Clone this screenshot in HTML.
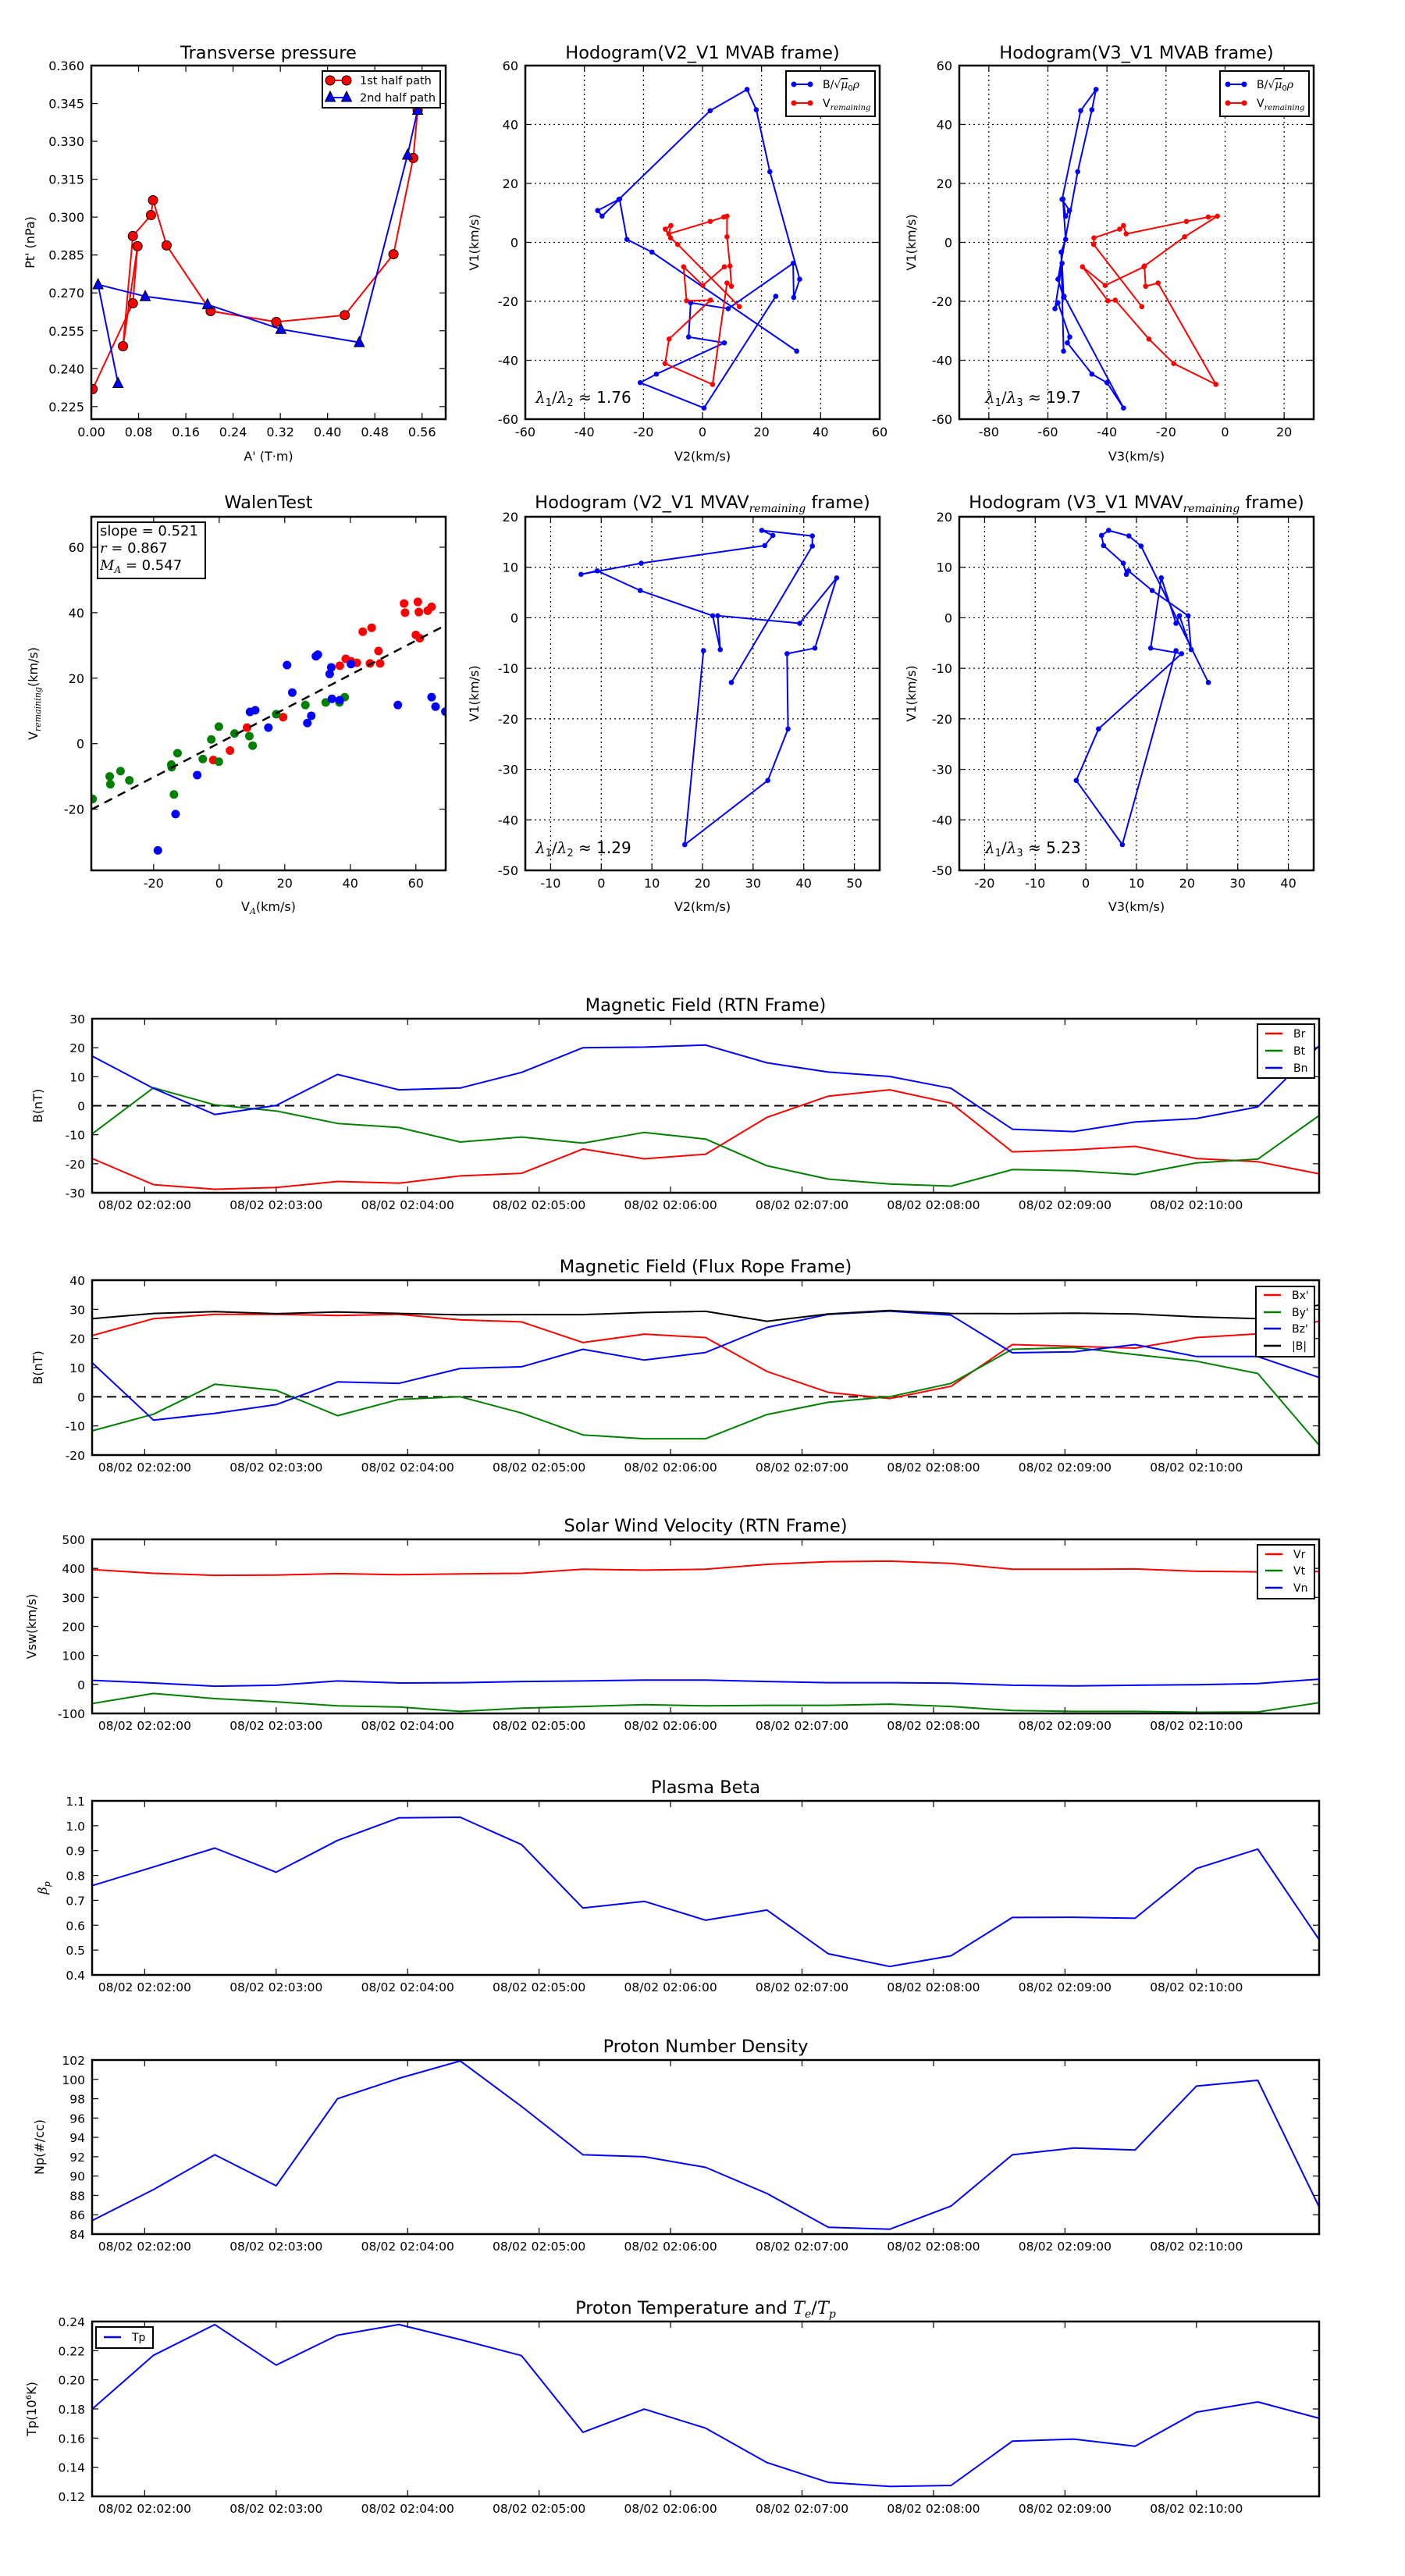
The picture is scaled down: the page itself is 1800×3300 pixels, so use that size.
<!DOCTYPE html>
<html><head><meta charset="utf-8"><title>Flux rope analysis</title>
<style>
html,body{margin:0;padding:0;background:#fff;}
svg{display:block;font-family:"DejaVu Sans","Liberation Sans",sans-serif;}
</style></head>
<body>
<svg id="fig" xmlns="http://www.w3.org/2000/svg" width="1800" height="3300" viewBox="0 0 1800 3300">
<rect x="0" y="0" width="1800" height="3300" fill="#fff"/>
</svg>
<script>
// ---------- Transverse pressure data ----------
const tpA1=[0.0022,0.0703,0.0782,0.0536,0.0703,0.1010,0.1045,0.1274,0.2020,0.3131,0.4291,0.5116,0.5450,0.5525];
const tpP1=[0.2319,0.2659,0.2885,0.2489,0.2925,0.3008,0.3067,0.2888,0.2628,0.2585,0.2612,0.2853,0.3234,0.3424];
const tpA2=[0.0452,0.0114,0.0913,0.1967,0.3210,0.4537,0.5354,0.5525];
const tpP2=[0.2342,0.2733,0.2686,0.2654,0.2556,0.2504,0.3246,0.3424];
// ---------- MVAB hodograms ----------
const hbV2=[24.8,0.5,-21.1,-15.6,7.4,-4.7,-4.0,8.7,30.7,30.9,32.9,22.8,18.2,15.1,2.6,-28.3,-35.5,-34.0,-28.1,-25.6,-17.1,31.9];
const hbV1=[-18.3,-56.2,-47.6,-44.7,-34.1,-32.1,-20.5,-22.5,-7.1,-18.7,-12.5,24.0,45.0,51.9,44.7,14.6,10.8,8.9,14.7,1.0,-3.3,-36.9];
const hbV3=[-54.5,-34.4,-40.0,-45.1,-53.4,-52.6,-56.6,-57.6,-55.2,-54.7,-56.6,-49.9,-45.1,-43.7,-48.9,-55.2,-52.7,-54.0,-54.9,-54.0,-55.5,-54.7];
const hvV2=[12.5,-8.4,-10.8,-12.6,-10.7,-11.4,2.6,7.2,8.3,8.3,9.3,9.8,8.3,3.4,-12.7,-11.3,2.7,-5.4,-6.4,0.1,7.4];
const hvV1=[-21.8,-0.7,1.5,4.5,5.7,2.9,7.1,8.6,8.9,1.9,-8.0,-14.9,-13.8,-48.2,-41.1,-32.8,-19.6,-19.8,-8.3,-14.6,-8.3];
const hvV3=[-28.2,-44.5,-44.4,-35.7,-34.4,-33.5,-13.1,-5.7,-2.6,-13.7,-27.3,-26.9,-22.7,-3.1,-17.4,-25.8,-37.2,-39.7,-48.3,-40.6,-27.5];
// ---------- Walen test ----------
const wxG=[-38.6,-33.4,-33.2,-30.1,-27.4,-14.6,-14.5,-13.8,-12.7,-5.0,-2.4,-0.1,-0.1,4.7,9.2,10.2,17.4,26.3,32.5,36.7,38.3];
const wyG=[-16.9,-10.0,-12.4,-8.4,-11.2,-6.4,-7.2,-15.5,-2.9,-4.7,1.3,5.2,-5.5,3.1,2.3,-0.6,9.0,11.8,12.6,12.6,14.2];
const wxR=[-1.8,3.3,8.5,19.5,36.8,38.6,40.2,42.0,43.8,46.5,46.0,48.6,49.1,56.4,56.7,60.6,60.9,60.0,61.2,63.6,64.8];
const wyR=[-5.0,-2.1,4.9,8.1,23.8,25.9,25.2,24.7,34.2,35.4,24.5,28.3,24.5,42.8,40.0,43.3,40.2,33.2,32.2,40.6,41.8];
const wxB=[-18.7,-13.3,-6.7,9.4,11.0,15.0,20.7,22.3,26.9,28.1,29.5,30.1,33.7,34.2,34.4,36.8,40.2,54.5,64.8,66.0,69.0];
const wyB=[-32.6,-21.5,-9.6,9.7,10.2,4.9,24.0,15.6,6.3,8.5,26.7,27.2,21.3,23.3,13.7,13.3,24.3,11.8,14.2,11.3,9.8];
const walenSlope=0.521, walenIntercept=0.2;
// ---------- MVAV hodograms ----------
const h2V2=[20.2,16.5,32.9,36.9,36.7,42.2,46.5,39.2,23.0,23.5,22.0,7.7,-0.8,-4.0,7.9,32.3,33.9,31.7,41.7,41.7,25.7];
const h2V1=[-6.5,-44.9,-32.2,-22.0,-7.1,-6.0,7.9,-1.1,0.4,-6.3,0.4,5.4,9.3,8.6,10.8,14.3,16.3,17.3,16.2,14.2,-12.8];
const h2V3=[17.8,7.2,-1.9,2.5,18.9,12.8,14.9,17.8,18.5,20.8,20.2,13.1,8.4,8.0,7.4,3.5,3.1,4.5,8.5,10.9,24.2];
// ---------- time series (seconds after 02:00:00) ----------
const tsSec=[96,124,152,180,208,236,264,292,320,348,376,404,432,460,488,516,544,572,600,628,656];
const tsTickSec=[120,180,240,300,360,420,480,540,600];
const tsTickLabels=["08/02 02:02:00","08/02 02:03:00","08/02 02:04:00","08/02 02:05:00","08/02 02:06:00","08/02 02:07:00","08/02 02:08:00","08/02 02:09:00","08/02 02:10:00"];
const br=[-18.2,-27.2,-28.8,-28.2,-26.1,-26.7,-24.2,-23.3,-14.9,-18.3,-16.7,-4.0,3.3,5.5,0.9,-15.9,-15.2,-14.0,-18.2,-19.3,-23.5];
const bt=[-9.7,6.2,0.3,-1.8,-6.1,-7.5,-12.5,-10.8,-12.9,-9.2,-11.5,-20.7,-25.3,-27.0,-27.7,-22.0,-22.4,-23.7,-19.7,-18.4,-3.4];
const bn=[17.1,6.0,-3.0,0.1,10.8,5.5,6.1,11.5,20.0,20.2,20.9,14.8,11.6,10.1,6.0,-8.1,-8.9,-5.6,-4.4,-0.4,20.7];
const bxp=[21.0,26.8,28.3,28.3,27.9,28.3,26.4,25.7,18.6,21.5,20.3,8.7,1.5,-0.6,3.6,17.9,17.3,16.7,20.3,21.6,25.9];
const byp=[-11.7,-6.0,4.3,2.2,-6.5,-0.9,0.0,-5.6,-13.1,-14.4,-14.4,-6.1,-1.9,0.0,4.6,16.3,16.9,14.5,12.2,8.0,-16.6];
const bzp=[11.7,-8.0,-5.7,-2.7,5.1,4.6,9.7,10.3,16.3,12.6,15.2,23.8,28.3,29.4,28.0,15.1,15.4,17.9,13.8,13.8,6.6];
const bmag=[26.8,28.6,29.2,28.5,29.1,28.6,28.1,28.2,28.2,28.9,29.3,25.9,28.4,29.6,28.6,28.5,28.7,28.4,27.4,26.8,31.5];
const vr=[396,383,376,377,382,378,381,383,397,394,397,414,423,425,417,397,397,398,390,388,389];
const vt=[-66,-31,-49,-60,-74,-78,-93,-82,-76,-70,-74,-72,-72,-68,-76,-90,-93,-93,-96,-95,-63];
const vn=[14,5,-6,-3,12,5,6,10,12,15,15,10,6,6,4,-3,-5,-3,-1,3,18];
const beta=[0.759,0.834,0.910,0.813,0.941,1.032,1.034,0.924,0.669,0.696,0.620,0.661,0.485,0.434,0.477,0.631,0.632,0.628,0.828,0.906,0.542];
const np=[85.4,88.6,92.2,89.0,98.0,100.1,101.9,97.2,92.2,92.0,90.9,88.2,84.7,84.5,86.9,92.2,92.9,92.7,99.3,99.9,86.8];
const tp=[0.1799,0.2168,0.2379,0.2101,0.2306,0.2379,0.2276,0.2166,0.1640,0.1799,0.1668,0.1432,0.1296,0.1268,0.1275,0.1579,0.1593,0.1544,0.1778,0.1848,0.1736];

const NS='http://www.w3.org/2000/svg';
const svg=document.getElementById('fig');
let clipId=0;
function el(tag,attrs,parent,name,inter){
  const e=document.createElementNS(NS,tag);
  for(const k in attrs) e.setAttribute(k,attrs[k]);
  
  
  (parent||svg).appendChild(e);
  return e;
}
function txt(parent,x,y,s,size,anchor,name,extra){
  const t=el('text',Object.assign({x:x,y:y,'font-size':size,'text-anchor':anchor||'start',fill:'#000'},extra||{}),parent,name,false);
  t.textContent=s;
  return t;
}
function range(a,b,s){const r=[];for(let v=a;v<=b+1e-9;v+=s)r.push(Math.round(v*1e6)/1e6);return r;}

function makeAxes(o){
  const g=el('g',{},svg,o.name,false);
  const sx=v=>o.x0+(v-o.xmin)/(o.xmax-o.xmin)*(o.x1-o.x0);
  const sy=v=>o.y1-(v-o.ymin)/(o.ymax-o.ymin)*(o.y1-o.y0);
  const id='clip'+(clipId++);
  const cp=el('clipPath',{id:id},g,'clip-region',false);
  el('rect',{x:o.x0,y:o.y0,width:o.x1-o.x0,height:o.y1-o.y0},cp,'clip-rect',false);
  if(o.grid){
    o.xticks.forEach(v=>{const X=sx(v);if(X>o.x0+1&&X<o.x1-1)el('line',{x1:X,x2:X,y1:o.y0,y2:o.y1,stroke:'#000','stroke-width':1.2,'stroke-dasharray':'2,4'},g,'x-gridline',false);});
    o.yticks.forEach(v=>{const Y=sy(v);if(Y>o.y0+1&&Y<o.y1-1)el('line',{x1:o.x0,x2:o.x1,y1:Y,y2:Y,stroke:'#000','stroke-width':1.2,'stroke-dasharray':'2,4'},g,'y-gridline',false);});
  }
  const data=el('g',{'clip-path':'url(#'+id+')'},g,'plot-area',false);
  const tl=8;
  o.xticks.forEach((v,i)=>{const X=sx(v);
    el('line',{x1:X,x2:X,y1:o.y1,y2:o.y1-tl,stroke:'#000','stroke-width':1.2},g,'x-tick',false);
    el('line',{x1:X,x2:X,y1:o.y0,y2:o.y0+tl,stroke:'#000','stroke-width':1.2},g,'x-tick-top',false);
    txt(g,X,o.y1+ (o.xlabOff||22),o.xlabels?o.xlabels[i]:o.xfmt(v),o.tickSize||16,'middle','x-tick-label');
  });
  o.yticks.forEach(v=>{const Y=sy(v);
    el('line',{x1:o.x0,x2:o.x0+tl,y1:Y,y2:Y,stroke:'#000','stroke-width':1.2},g,'y-tick',false);
    el('line',{x1:o.x1,x2:o.x1-tl,y1:Y,y2:Y,stroke:'#000','stroke-width':1.2},g,'y-tick-right',false);
    txt(g,o.x0-9,Y+6,o.yfmt(v),o.tickSize||16,'end','y-tick-label');
  });
  if(o.title){const t=txt(g,(o.x0+o.x1)/2,o.titleY,'',o.titleSize||22.5,'middle','chart-title');o.title(t);}
  if(o.xlabel){const t=txt(g,(o.x0+o.x1)/2,o.xlabelY,'',16,'middle','x-axis-title');o.xlabel(t);}
  if(o.ylabel){const yc=(o.y0+o.y1)/2;const t=txt(g,o.ylabelX,yc,'',16,'middle','y-axis-title',{transform:'rotate(-90 '+o.ylabelX+' '+yc+')'});o.ylabel(t);}
  return {g,data,sx,sy,o,frame(){el('rect',{x:o.x0,y:o.y0,width:o.x1-o.x0,height:o.y1-o.y0,fill:'none',stroke:'#000','stroke-width':2.5},g,'axes-frame',false);}};
}
function ts(t,parts){parts.forEach(p=>{const s=document.createElementNS(NS,'tspan');for(const k in (p.a||{}))s.setAttribute(k,p.a[k]);s.textContent=p.t;t.appendChild(s);});}
function polyline(ax,xs,ys,color,w,name){
  const pts=xs.map((x,i)=>ax.sx(x).toFixed(1)+','+ax.sy(ys[i]).toFixed(1)).join(' ');
  return el('polyline',{points:pts,fill:'none',stroke:color,'stroke-width':w,'stroke-linejoin':'round'},ax.data,name,false);
}
function dots(ax,xs,ys,color,r,name,stroke){
  xs.forEach((x,i)=>{el('circle',{cx:ax.sx(x),cy:ax.sy(ys[i]),r:r,fill:color,stroke:stroke||'none','stroke-width':1},ax.data,name,false);});
}
function tris(ax,xs,ys,color,name){
  xs.forEach((x,i)=>{const X=ax.sx(x),Y=ax.sy(ys[i]);
    el('polygon',{points:(X)+','+(Y-7.5)+' '+(X-6.5)+','+(Y+5.5)+' '+(X+6.5)+','+(Y+5.5),fill:color,stroke:'#000','stroke-width':1},ax.data,name,false);});
}
function lambdaText(g,x,y,a,b,val){
  const t=txt(g,x,y,'',20,'start','eigenvalue-ratio');
  ts(t,[{t:'λ',a:{'font-family':'DejaVu Serif, serif','font-style':'italic'}},{t:a,a:{'font-size':13,dy:4}},{t:'/',a:{dy:-4,'font-family':'DejaVu Serif, serif'}},{t:'λ',a:{'font-family':'DejaVu Serif, serif','font-style':'italic'}},{t:b,a:{'font-size':13,dy:4}},{t:' ≈ '+val,a:{dy:-4}}]);
}
function hodoLegend(ax,x0,y0){
  const g=el('g',{},ax.g,'legend',false);
  el('rect',{x:x0,y:y0,width:114,height:58,fill:'#fff',stroke:'#000','stroke-width':2},g,'legend-box',false);
  [['#00f',y0+17,'legend-entry-b'],['#f00',y0+41,'legend-entry-v']].forEach((e,i)=>{
    el('line',{x1:x0+10,x2:x0+31,y1:e[1],y2:e[1],stroke:e[0],'stroke-width':2},g,e[2]+'-line',false);
    el('circle',{cx:x0+10,cy:e[1],r:3.5,fill:e[0]},g,e[2]+'-marker',false);
    el('circle',{cx:x0+31,cy:e[1],r:3.5,fill:e[0]},g,e[2]+'-marker',false);
    const t=txt(g,x0+47,e[1]+5,'',14,'start',e[2]+'-label');
    if(i===0) ts(t,[{t:'B/√'},{t:'μ',a:{'font-style':'italic','font-family':'DejaVu Serif, serif','text-decoration':'overline'}},{t:'0',a:{'font-size':10,dy:3}},{t:'ρ',a:{'font-style':'italic','font-family':'DejaVu Serif, serif',dy:-3}}]);
    else ts(t,[{t:'V'},{t:'remaining',a:{'font-size':10,dy:4,'font-style':'italic','font-family':'DejaVu Serif, serif'}}]);
  });
}
const f3=v=>v.toFixed(3), f2=v=>v.toFixed(2), f0=v=>String(v), f1=v=>v.toFixed(1);

// ===== Transverse pressure =====
(function(){
  const ax=makeAxes({name:'transverse-pressure-chart',x0:117,x1:571,y0:84,y1:537,xmin:0,xmax:0.6,ymin:0.22,ymax:0.36,
    xticks:range(0,0.56,0.08),yticks:range(0.225,0.36,0.015),xfmt:f2,yfmt:f3,titleY:75,
    title:t=>t.textContent='Transverse pressure',xlabelY:590,xlabel:t=>t.textContent="A' (T·m)",ylabelX:44,ylabel:t=>t.textContent="Pt' (nPa)"});
  polyline(ax,tpA1,tpP1,'#f00',2,'first-half-path-line');
  dots(ax,tpA1,tpP1,'#f00',6,'first-half-path-point','#000');
  polyline(ax,tpA2,tpP2,'#00f',2,'second-half-path-line');
  tris(ax,tpA2,tpP2,'#00f','second-half-path-point');
  ax.frame();
  const g=el('g',{},ax.g,'legend',false);
  el('rect',{x:413,y:91,width:151,height:47,fill:'#fff',stroke:'#000','stroke-width':2},g,'legend-box',false);
  el('line',{x1:423,x2:444,y1:103,y2:103,stroke:'#f00','stroke-width':2},g,'legend-entry-first-line',false);
  el('circle',{cx:423,cy:103,r:6,fill:'#f00',stroke:'#000'},g,'legend-entry-first-marker',false);
  el('circle',{cx:444,cy:103,r:6,fill:'#f00',stroke:'#000'},g,'legend-entry-first-marker',false);
  txt(g,461,108,'1st half path',14.5,'start','legend-entry-first-label');
  el('line',{x1:423,x2:444,y1:125,y2:125,stroke:'#00f','stroke-width':2},g,'legend-entry-second-line',false);
  [423,444].forEach(X=>el('polygon',{points:X+','+117+' '+(X-6.5)+','+130+' '+(X+6.5)+','+130,fill:'#00f',stroke:'#000'},g,'legend-entry-second-marker',false));
  txt(g,461,130,'2nd half path',14.5,'start','legend-entry-second-label');
})();

// ===== Hodogram V2_V1 MVAB =====
(function(){
  const ax=makeAxes({name:'hodogram-v2-v1-mvab',x0:673,x1:1127,y0:84,y1:537,xmin:-60,xmax:60,ymin:-60,ymax:60,grid:true,
    xticks:range(-60,60,20),yticks:range(-60,60,20),xfmt:f0,yfmt:f0,titleY:75,
    title:t=>t.textContent='Hodogram(V2_V1 MVAB frame)',xlabelY:590,xlabel:t=>t.textContent='V2(km/s)',ylabelX:613,ylabel:t=>t.textContent='V1(km/s)'});
  polyline(ax,hbV2,hbV1,'#00f',2,'b-alfven-path');
  dots(ax,hbV2,hbV1,'#00f',3.3,'b-alfven-point');
  polyline(ax,hvV2,hvV1,'#f00',2,'v-remaining-path');
  dots(ax,hvV2,hvV1,'#f00',3.3,'v-remaining-point');
  ax.frame();
  hodoLegend(ax,1007,91);
  lambdaText(ax.g,686,516,'1','2','1.76');
})();

// ===== Hodogram V3_V1 MVAB =====
(function(){
  const ax=makeAxes({name:'hodogram-v3-v1-mvab',x0:1229,x1:1683,y0:84,y1:537,xmin:-90,xmax:30,ymin:-60,ymax:60,grid:true,
    xticks:range(-80,20,20),yticks:range(-60,60,20),xfmt:f0,yfmt:f0,titleY:75,
    title:t=>t.textContent='Hodogram(V3_V1 MVAB frame)',xlabelY:590,xlabel:t=>t.textContent='V3(km/s)',ylabelX:1173,ylabel:t=>t.textContent='V1(km/s)'});
  polyline(ax,hbV3,hbV1,'#00f',2,'b-alfven-path');
  dots(ax,hbV3,hbV1,'#00f',3.3,'b-alfven-point');
  polyline(ax,hvV3,hvV1,'#f00',2,'v-remaining-path');
  dots(ax,hvV3,hvV1,'#f00',3.3,'v-remaining-point');
  ax.frame();
  hodoLegend(ax,1563,91);
  lambdaText(ax.g,1262,516,'1','3','19.7');
})();

// ===== Walen test =====
(function(){
  const ax=makeAxes({name:'walen-test-chart',x0:117,x1:571,y0:662,y1:1115,xmin:-39,xmax:69.1,ymin:-38.7,ymax:69.3,
    xticks:range(-20,60,20),yticks:range(-20,60,20),xfmt:f0,yfmt:f0,titleY:651,
    title:t=>t.textContent='WalenTest',xlabelY:1167,
    xlabel:t=>ts(t,[{t:'V'},{t:'A',a:{'font-size':11,dy:4,'font-style':'italic','font-family':'DejaVu Serif, serif'}},{t:'(km/s)',a:{dy:-4}}]),
    ylabelX:48,ylabel:t=>ts(t,[{t:'V'},{t:'remaining',a:{'font-size':11,dy:4,'font-style':'italic','font-family':'DejaVu Serif, serif'}},{t:'(km/s)',a:{dy:-4}}])});
  dots(ax,wxR,wyR,'#f00',5.5,'walen-point-red');
  dots(ax,wxG,wyG,'#008000',5.5,'walen-point-green');
  dots(ax,wxB,wyB,'#00f',5.5,'walen-point-blue');
  const xa=ax.o.xmin, xb=ax.o.xmax;
  el('line',{x1:ax.sx(xa),y1:ax.sy(walenSlope*xa+walenIntercept),x2:ax.sx(xb),y2:ax.sy(walenSlope*xb+walenIntercept),stroke:'#000','stroke-width':2.5,'stroke-dasharray':'11,8'},ax.data,'fit-line',false);
  ax.frame();
  const g=el('g',{},ax.g,'stats-box',false);
  el('rect',{x:125,y:669,width:138,height:72,fill:'#fff',stroke:'#000','stroke-width':2},g,'stats-box-frame',false);
  txt(g,128,686,'slope = 0.521',18,'start','slope-text');
  const r=txt(g,128,708,'',18,'start','r-text');ts(r,[{t:'r',a:{'font-style':'italic','font-family':'DejaVu Serif, serif'}},{t:' = 0.867'}]);
  const m=txt(g,128,730,'',18,'start','ma-text');ts(m,[{t:'M',a:{'font-style':'italic','font-family':'DejaVu Serif, serif'}},{t:'A',a:{'font-size':12,dy:4,'font-style':'italic','font-family':'DejaVu Serif, serif'}},{t:' = 0.547',a:{dy:-4}}]);
})();

function mvavTitle(t,v){ts(t,[{t:'Hodogram ('+v+'_V1 MVAV'},{t:'remaining',a:{'font-size':14,dy:5,'font-style':'italic','font-family':'DejaVu Serif, serif'}},{t:' frame)',a:{dy:-5}}]);}
// ===== Hodogram V2_V1 MVAV =====
(function(){
  const ax=makeAxes({name:'hodogram-v2-v1-mvav',x0:673,x1:1127,y0:662,y1:1115,xmin:-15,xmax:55,ymin:-50,ymax:20,grid:true,
    xticks:range(-10,50,10),yticks:range(-50,20,10),xfmt:f0,yfmt:f0,titleY:651,
    title:t=>mvavTitle(t,'V2'),xlabelY:1167,xlabel:t=>t.textContent='V2(km/s)',ylabelX:613,ylabel:t=>t.textContent='V1(km/s)'});
  polyline(ax,h2V2,h2V1,'#00f',2,'b-alfven-path');
  dots(ax,h2V2,h2V1,'#00f',3.3,'b-alfven-point');
  ax.frame();
  lambdaText(ax.g,686,1093,'1','2','1.29');
})();
// ===== Hodogram V3_V1 MVAV =====
(function(){
  const ax=makeAxes({name:'hodogram-v3-v1-mvav',x0:1229,x1:1683,y0:662,y1:1115,xmin:-25,xmax:45,ymin:-50,ymax:20,grid:true,
    xticks:range(-20,40,10),yticks:range(-50,20,10),xfmt:f0,yfmt:f0,titleY:651,
    title:t=>mvavTitle(t,'V3'),xlabelY:1167,xlabel:t=>t.textContent='V3(km/s)',ylabelX:1173,ylabel:t=>t.textContent='V1(km/s)'});
  polyline(ax,h2V3,h2V1,'#00f',2,'b-alfven-path');
  dots(ax,h2V3,h2V1,'#00f',3.3,'b-alfven-point');
  ax.frame();
  lambdaText(ax.g,1262,1093,'1','3','5.23');
})();

// ===== Time series =====
function tsAxes(name,y0,y1,ymin,ymax,yticks,yfmt,title,ylabel,ylabelX){
  return makeAxes({name:name,x0:118,x1:1690,y0:y0,y1:y1,xmin:96,xmax:656,ymin:ymin,ymax:ymax,
    xticks:tsTickSec,xlabels:tsTickLabels,yticks:yticks,yfmt:yfmt,tickSize:15.5,xlabOff:21,titleY:y0-10,title:title,ylabelX:ylabelX,ylabel:ylabel});
}
function tsLegend(ax,x0,y0,w,h,entries,rowY){
  const g=el('g',{},ax.g,'legend',false);
  el('rect',{x:x0,y:y0,width:w,height:h,fill:'#fff',stroke:'#000','stroke-width':2},g,'legend-box',false);
  entries.forEach((e,i)=>{
    el('line',{x1:x0+10,x2:x0+32,y1:rowY[i],y2:rowY[i],stroke:e[1],'stroke-width':2.5},g,'legend-entry-line',false);
    txt(g,x0+46,rowY[i]+5,e[0],14,'start','legend-entry-label');
  });
}
function zeroLine(ax){el('line',{x1:ax.o.x0,x2:ax.o.x1,y1:ax.sy(0),y2:ax.sy(0),stroke:'#000','stroke-width':2,'stroke-dasharray':'12,7'},ax.data,'zero-line',false);}

(function(){
  const ax=tsAxes('magnetic-field-rtn-chart',1305,1528,-30,30,range(-30,30,10),f0,t=>t.textContent='Magnetic Field (RTN Frame)',t=>t.textContent='B(nT)',54);
  zeroLine(ax);
  polyline(ax,tsSec,br,'#f00',2,'br-line');
  polyline(ax,tsSec,bt,'#008000',2,'bt-line');
  polyline(ax,tsSec,bn,'#00f',2,'bn-line');
  ax.frame();
  tsLegend(ax,1611,1312,73,69,[['Br','#f00'],['Bt','#008000'],['Bn','#00f']],[1324,1346,1368]);
})();
(function(){
  const ax=tsAxes('magnetic-field-flux-rope-chart',1640,1864,-20,40,range(-20,40,10),f0,t=>t.textContent='Magnetic Field (Flux Rope Frame)',t=>t.textContent='B(nT)',54);
  zeroLine(ax);
  polyline(ax,tsSec,bxp,'#f00',2,'bx-line');
  polyline(ax,tsSec,byp,'#008000',2,'by-line');
  polyline(ax,tsSec,bzp,'#00f',2,'bz-line');
  polyline(ax,tsSec,bmag,'#000',2,'b-magnitude-line');
  ax.frame();
  tsLegend(ax,1609,1648,75,90,[["Bx'",'#f00'],["By'",'#008000'],["Bz'",'#00f'],['|B|','#000']],[1659,1681,1702,1724]);
})();
(function(){
  const ax=tsAxes('solar-wind-velocity-chart',1972,2195,-100,500,range(-100,500,100),f0,t=>t.textContent='Solar Wind Velocity (RTN Frame)',t=>t.textContent='Vsw(km/s)',46);
  polyline(ax,tsSec,vr,'#f00',2,'vr-line');
  polyline(ax,tsSec,vt,'#008000',2,'vt-line');
  polyline(ax,tsSec,vn,'#00f',2,'vn-line');
  ax.frame();
  tsLegend(ax,1611,1979,73,69,[['Vr','#f00'],['Vt','#008000'],['Vn','#00f']],[1991,2012,2034]);
})();
(function(){
  const ax=tsAxes('plasma-beta-chart',2307,2530,0.4,1.1,range(0.4,1.1,0.1),f1,t=>t.textContent='Plasma Beta',
    t=>ts(t,[{t:'β',a:{'font-style':'italic','font-family':'DejaVu Serif, serif'}},{t:'p',a:{'font-size':11,dy:4,'font-style':'italic','font-family':'DejaVu Serif, serif'}}]),60);
  polyline(ax,tsSec,beta,'#00f',2,'beta-line');
  ax.frame();
})();
(function(){
  const ax=tsAxes('proton-density-chart',2639,2862,84,102,range(84,102,2),f0,t=>t.textContent='Proton Number Density',t=>t.textContent='Np(#/cc)',56);
  polyline(ax,tsSec,np,'#00f',2,'np-line');
  ax.frame();
})();
(function(){
  const ax=tsAxes('proton-temperature-chart',2974,3198,0.12,0.24,range(0.12,0.24,0.02),f2,
    t=>ts(t,[{t:'Proton Temperature and '},{t:'T',a:{'font-style':'italic','font-family':'DejaVu Serif, serif'}},{t:'e',a:{'font-size':14,dy:5,'font-style':'italic','font-family':'DejaVu Serif, serif'}},{t:'/',a:{dy:-5}},{t:'T',a:{'font-style':'italic','font-family':'DejaVu Serif, serif'}},{t:'p',a:{'font-size':14,dy:5,'font-style':'italic','font-family':'DejaVu Serif, serif'}}]),
    t=>ts(t,[{t:'Tp(10'},{t:'6',a:{'font-size':10,dy:-6}},{t:'K)',a:{dy:6}}]),46);
  polyline(ax,tsSec,tp,'#00f',2,'tp-line');
  ax.frame();
  tsLegend(ax,123,2981,73,27,[['Tp','#00f']],[2994]);
})();
</script>
</body></html>
